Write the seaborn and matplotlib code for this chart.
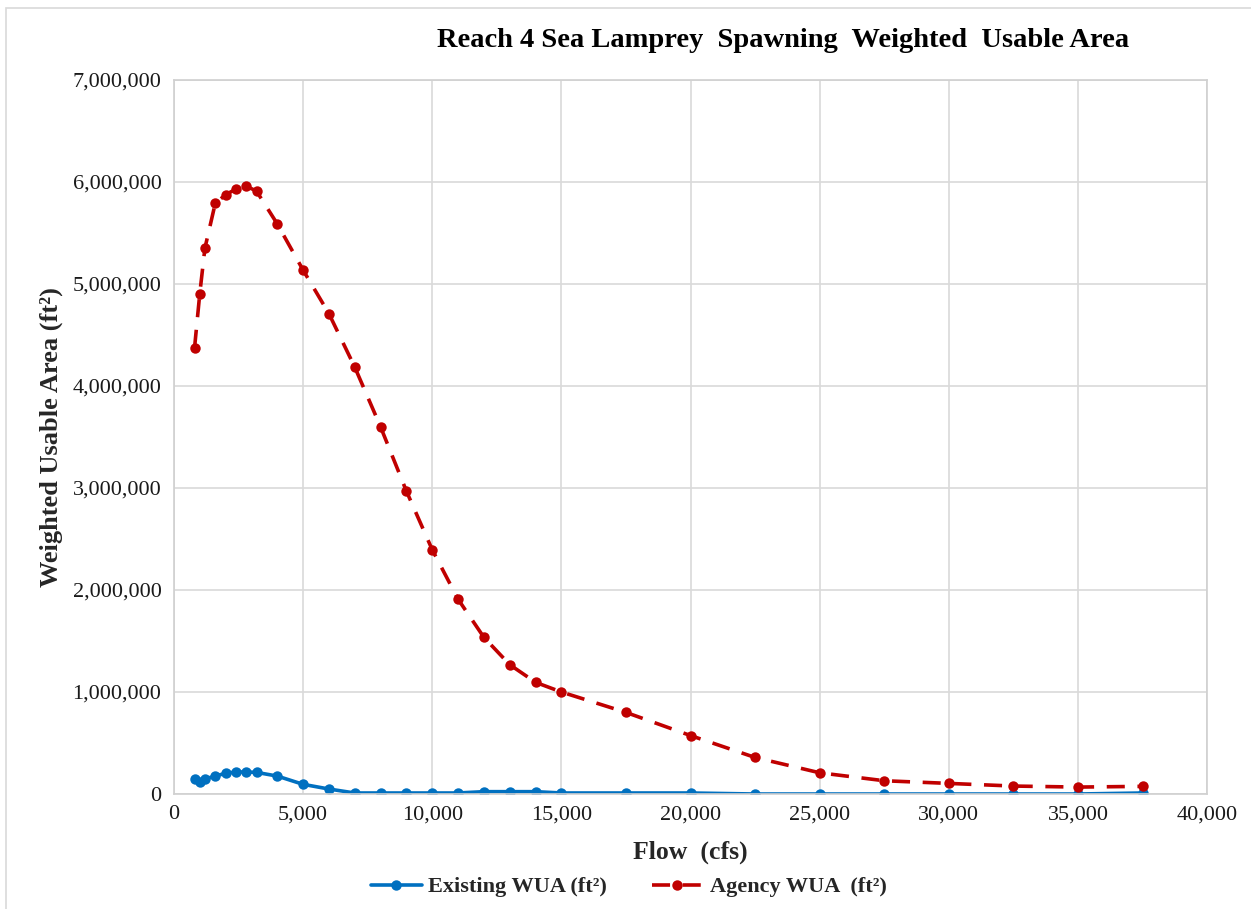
import numpy as np
import pandas as pd
import matplotlib
matplotlib.use("Agg")
import matplotlib.pyplot as plt
from matplotlib.ticker import FuncFormatter, MultipleLocator
from matplotlib.patches import Rectangle
import seaborn as sns

flow = [800, 1000, 1200, 1600, 2000, 2400, 2800, 3200, 4000, 5000, 6000, 7000,
        8000, 9000, 10000, 11000, 12000, 13000, 14000, 15000, 17500, 20000,
        22500, 25000, 27500, 30000, 32500, 35000, 37500]
existing = [144000, 114000, 147000, 176000, 203000, 216000, 216000, 212000,
            176000, 95000, 49000, 10000, 10000, 10000, 10000, 10000, 23000,
            23000, 23000, 10000, 10000, 10000, 0, 0, 0, 0, 0, 0, 10000]
agency = [4375000, 4900000, 5350000, 5790000, 5875000, 5930000, 5960000,
          5910000, 5590000, 5137000, 4710000, 4186000, 3600000, 2970000,
          2395000, 1910000, 1536000, 1268000, 1095000, 1000000, 800000,
          573000, 358000, 208000, 130000, 104000, 78000, 68000, 75000]
series_names = ["Existing WUA (ft\u00b2)", "Agency WUA  (ft\u00b2)"]

df = pd.DataFrame({
    "flow": flow * 2,
    "wua": existing + agency,
    "series": [series_names[0]] * len(flow) + [series_names[1]] * len(flow),
})

sns.set_style("white")
plt.rcParams["font.family"] = ["Liberation Serif", "DejaVu Serif"]

fig = plt.figure(figsize=(12.51, 9.09), dpi=100)
ax = fig.add_axes([0.139, 0.1265, 0.826, 0.7855])

sns.lineplot(data=df, x="flow", y="wua", hue="series", style="series",
             palette={series_names[0]: "#0070C0", series_names[1]: "#C00000"},
             dashes={series_names[0]: "", series_names[1]: (5, 3.5)},
             markers={series_names[0]: "o", series_names[1]: "o"},
             markersize=7.5, markeredgewidth=0, linewidth=2.6, ax=ax)

ax.set_xlim(0, 40000)
ax.set_ylim(0, 7000000)
ax.xaxis.set_major_locator(MultipleLocator(5000))
ax.yaxis.set_major_locator(MultipleLocator(1000000))
fmt = FuncFormatter(lambda v, p: f"{int(v):,}")
ax.xaxis.set_major_formatter(fmt)
ax.yaxis.set_major_formatter(fmt)
ax.grid(True, color="#d9d9d9", linewidth=1.2)
ax.set_axisbelow(True)
for s in ax.spines.values():
    s.set_color("#d0d0d0")
    s.set_linewidth(1.2)
ax.tick_params(axis="both", labelsize=16, length=0, colors="#1a1a1a")
ax.tick_params(axis="y", pad=9)
ax.tick_params(axis="x", pad=8)

ax.set_xlabel("Flow  (cfs)", fontsize=18.5, fontweight="bold", labelpad=12)
ax.set_ylabel("Weighted Usable Area (ft\u00b2)", fontsize=19, fontweight="bold", labelpad=7)

fig.text(0.626, 0.955, "Reach 4 Sea Lamprey  Spawning  Weighted  Usable Area",
         ha="center", va="center", fontsize=20.5, fontweight="bold", color="black")

leg = ax.legend(loc="upper center", bbox_to_anchor=(0.44, -0.088), ncol=2,
                frameon=False, handlelength=2.3, columnspacing=2.0,
                handletextpad=0.3, prop={"weight": "bold", "size": 16})

fig.patches.append(Rectangle((0.005, -0.1), 1.1, 1.091, transform=fig.transFigure,
                             fill=False, edgecolor="#d9d9d9", linewidth=1.2))

fig.savefig("out.png", dpi=100)
